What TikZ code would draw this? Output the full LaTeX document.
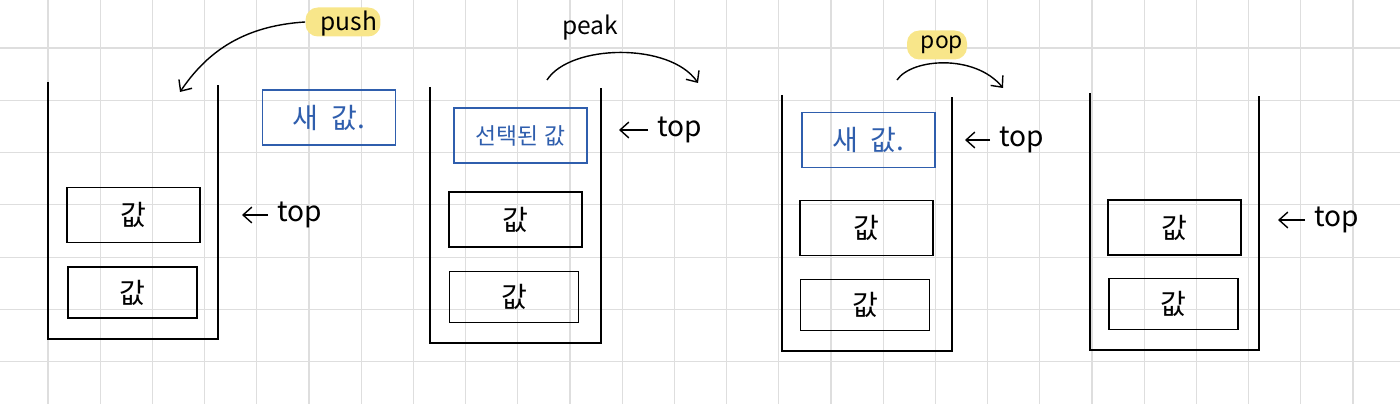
\documentclass[tikz,border=0pt]{standalone}
\usepackage{fontspec}
\usepackage{tikz}
\usetikzlibrary{arrows.meta,positioning,shapes,calc}
\newfontfamily\kr{Noto Sans CJK KR}
\definecolor{inkblue}{HTML}{2F5EAD}
\definecolor{marker}{HTML}{F8E68A}
\definecolor{gridgray}{HTML}{DEDEDE}
\tikzset{
  wall/.style={line width=1.2pt,black},
  valbox/.style={draw,line width=1.1pt,minimum width=2.66cm,minimum height=1.1cm,font=\kr\fontsize{16}{18}\selectfont},
  lowbox/.style={valbox,minimum width=2.58cm,minimum height=1.02cm},
  newbox/.style={valbox,draw=inkblue,text=inkblue},
  label/.style={font=\kr\fontsize{14}{16}\selectfont,inner sep=1pt},
  toplabel/.style={label,font=\kr\fontsize{16}{18}\selectfont,anchor=west,inner xsep=5pt},
  hilite/.style={fill=marker,rounded corners=7pt,minimum width=#1,minimum height=0.58cm},
}
\begin{document}
\begin{tikzpicture}[x=0.02cm,y=-0.02cm,>={Straight Barb[length=5pt,width=9pt]}]
  \useasboundingbox (0,0) rectangle (1400,404);
  % Grid paper
  \foreach \i in {0,...,26}
    \draw[gridgray,line width=0.6pt] ({48+52.2*\i},0) -- ({48+52.2*\i},404);
  \foreach \j in {0,...,6}
    \draw[gridgray,line width=0.6pt] (0,{48+52.3*\j}) -- (1400,{48+52.3*\j});

  % Stack 1: push
  \draw[wall] (48,82) |- (218,339) -- (218,85);
  \node[valbox] (s1a) at (133.5,215) {값};
  \node[lowbox] (s1b) at (132.5,292.5) {값};
  \node[newbox] (new1) at (329,117.5) {새\ \ 값.};
  \node[hilite=1.5cm] (hl1) at (343,22) {};
  \node[label] (push) at (349,24) {push};
  \coordinate (in1) at (180,92);
  \draw[thick,->] (hl1.west) .. controls (240,26) and (205,55) .. (in1);
  \node[toplabel] (top1) at (268,215) {top};
  \coordinate (tip1) at (242,215);
  \draw[thick,->] (top1.west) -- (tip1);

  % Stack 2: peak
  \draw[wall] (430,87) |- (601,343) -- (601,88);
  \node[newbox,font=\kr\fontsize{13}{15}\selectfont] (sel2) at (520.5,135.5) {선택된 값};
  \node[valbox] (s2a) at (515.5,219.5) {값};
  \node[lowbox] (s2b) at (514,297) {값};
  \node[label] (peak) at (590,28) {peak};
  \coordinate (from2) at (547,80);
  \coordinate (out2) at (698,83);
  \draw[thick,->] (from2) .. controls (570,44) and (670,42) .. (out2);
  \node[toplabel] (top2) at (648,130) {top};
  \coordinate (tip2) at (619,130);
  \draw[thick,->] (top2.west) -- (tip2);

  % Stack 3: pop
  \draw[wall] (782,95) |- (952,351) -- (952,97);
  \node[newbox] (new3) at (868.5,140) {새\ \ 값.};
  \node[valbox] (s3a) at (866.5,228) {값};
  \node[lowbox] (s3b) at (865,305) {값};
  \node[hilite=1.2cm] (hl3) at (937,45) {};
  \node[label,font=\kr\fontsize{13}{15}\selectfont] (pop) at (942,45) {pop};
  \coordinate (from3) at (897,80);
  \coordinate (out3) at (1003,88);
  \draw[thick,->] (from3) .. controls (912,58) and (975,54) .. (out3);
  \node[toplabel] (top3) at (990,140) {top};
  \coordinate (tip3) at (965,140);
  \draw[thick,->] (top3.west) -- (tip3);

  % Stack 4: after pop
  \draw[wall] (1090,93) |- (1259,350) -- (1259,96);
  \node[valbox] (s4a) at (1174.5,227.5) {값};
  \node[lowbox] (s4b) at (1173.5,304) {값};
  \node[toplabel] (top4) at (1305,220) {top};
  \coordinate (tip4) at (1278,220);
  \draw[thick,->] (top4.west) -- (tip4);
\end{tikzpicture}
\end{document}
